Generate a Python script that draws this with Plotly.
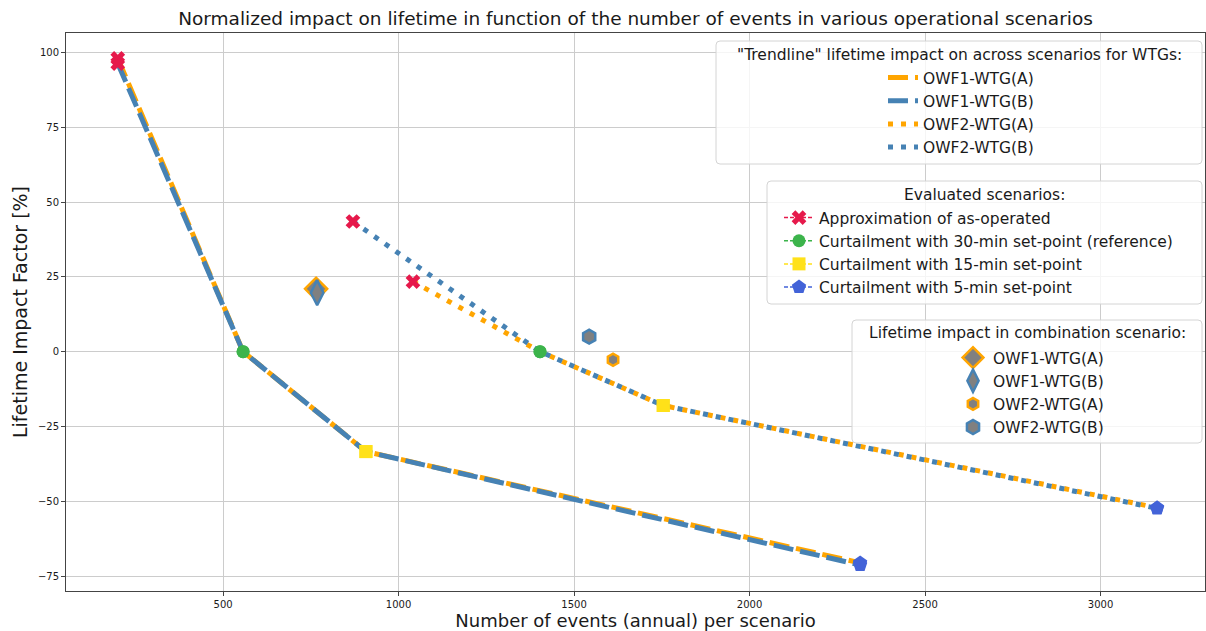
import plotly.graph_objects as go

# ---- data -------------------------------------------------------------
# Scenario order along each trendline:
# as-operated, 30-min set-point, 15-min set-point, 5-min set-point
owf1_a_x = [200, 557, 907, 2315]
owf1_a_y = [98.0, 0.0, -33.4, -70.6]
owf1_b_x = [200, 557, 907, 2315]
owf1_b_y = [96.3, 0.0, -33.4, -71.3]
owf2_a_x = [1041, 1403, 1754, 3161]
owf2_a_y = [23.4, 0.0, -18.0, -52.2]
owf2_b_x = [870, 1403, 1754, 3161]
owf2_b_y = [43.5, 0.0, -18.0, -52.4]

wtg_names = ["OWF1-WTG(A)", "OWF1-WTG(B)", "OWF2-WTG(A)", "OWF2-WTG(B)"]
scenario_names = [
    "Approximation of as-operated",
    "Curtailment with 30-min set-point (reference)",
    "Curtailment with 15-min set-point",
    "Curtailment with 5-min set-point",
]

# combination scenario results, one per WTG
combo_x = [765, 768, 1611, 1543]
combo_y = [21.0, 19.7, -2.7, 5.0]

x_ticks = [500, 1000, 1500, 2000, 2500, 3000]
y_ticks = [-75, -50, -25, 0, 25, 50, 75, 100]

# ---- styling ----------------------------------------------------------
W, H = 1206, 631
ML, MR, MT, MB = 66, 1, 33, 40
PW, PH = W - ML - MR, H - MT - MB
FONT = "DejaVu Sans"
TXT = "#1a1a1a"

ORANGE = "#FFA500"
STEEL = "#4682B4"
scen_colors = ["#e6194B", "#3cb44b", "#ffe119", "#4363d8"]
scen_symbols = ["x", "circle", "square", "pentagon"]
scen_sizes = [13, 13, 13, 15]


def px2x(px):
    return (px - ML) / PW


def px2y(py):
    return (H - MB - py) / PH


fig = go.Figure()

# trendlines across scenarios
trend = [
    (owf1_a_x, owf1_a_y, ORANGE, "20px,7px"),
    (owf1_b_x, owf1_b_y, STEEL, "20px,7px"),
    (owf2_a_x, owf2_a_y, ORANGE, "5px,8px"),
    (owf2_b_x, owf2_b_y, STEEL, "5px,8px"),
]
for (xs, ys, col, dash), name in zip(trend, wtg_names):
    fig.add_trace(go.Scatter(
        x=xs, y=ys, mode="lines", name=name, legend="legend",
        line=dict(color=col, width=5, dash=dash),
    ))

# evaluated scenario markers (gaps keep the points unconnected)
all_x = [owf1_a_x, owf1_b_x, owf2_a_x, owf2_b_x]
all_y = [owf1_a_y, owf1_b_y, owf2_a_y, owf2_b_y]
for i, name in enumerate(scenario_names):
    sx, sy = [], []
    for xs, ys in zip(all_x, all_y):
        sx += [xs[i], None]
        sy += [ys[i], None]
    fig.add_trace(go.Scatter(
        x=sx, y=sy, mode="lines+markers", name=name, legend="legend2",
        connectgaps=False,
        line=dict(color=scen_colors[i], width=1.5, dash="4px,2px"),
        marker=dict(symbol=scen_symbols[i], size=scen_sizes[i],
                    color=scen_colors[i], line=dict(width=0)),
    ))

# combination scenario
combo_symbols = ["diamond", "diamond-tall", "hexagon", "hexagon"]
combo_edges = [ORANGE, STEEL, ORANGE, STEEL]
combo_sizes = [17, 18, 12, 14]
for i, name in enumerate(wtg_names):
    fig.add_trace(go.Scatter(
        x=[combo_x[i]], y=[combo_y[i]], mode="markers", name=name,
        legend="legend3",
        marker=dict(symbol=combo_symbols[i], size=combo_sizes[i],
                    color="#808080",
                    line=dict(color=combo_edges[i], width=2.5)),
    ))

# ---- legend boxes and titles -----------------------------------------
def rounded_box(x0, y0, x1, y1, r=4):
    rx, ry = r / PW, r / PH
    X0, X1 = px2x(x0), px2x(x1)
    Y0, Y1 = px2y(y1), px2y(y0)  # bottom, top
    return (f"M{X0+rx},{Y0} L{X1-rx},{Y0} Q{X1},{Y0} {X1},{Y0+ry} "
            f"L{X1},{Y1-ry} Q{X1},{Y1} {X1-rx},{Y1} L{X0+rx},{Y1} "
            f"Q{X0},{Y1} {X0},{Y1-ry} L{X0},{Y0+ry} Q{X0},{Y0} {X0+rx},{Y0} Z")


boxes = [(716, 41, 1202, 164), (767, 181, 1202, 304), (852, 320, 1202, 443)]
titles = [
    ('"Trendline" lifetime impact on across scenarios for WTGs:', 959, 55),
    ("Evaluated scenarios:", 984.5, 195),
    ("Lifetime impact in combination scenario:", 1027, 333),
]
shapes = [
    dict(type="path", xref="paper", yref="paper", path=rounded_box(*b),
         fillcolor="rgba(255,255,255,0.8)", line=dict(color="#d4d4d4", width=1),
         layer="above")
    for b in boxes
]
annotations = [
    dict(text=t, x=px2x(cx), y=px2y(cy), xref="paper", yref="paper",
         xanchor="center", yanchor="middle", showarrow=False,
         font=dict(family=FONT, size=15.5, color=TXT))
    for t, cx, cy in titles
]

leg_common = dict(bgcolor="rgba(0,0,0,0)", borderwidth=0,
                  font=dict(family=FONT, size=15.5, color=TXT),
                  xanchor="left", yanchor="top", tracegroupgap=0)

fig.update_layout(
    width=W, height=H,
    margin=dict(l=ML, r=MR, t=MT, b=MB, autoexpand=False),
    paper_bgcolor="white", plot_bgcolor="white",
    font=dict(family=FONT, color=TXT),
    title=dict(
        text="Normalized impact on lifetime in function of the number of events in various operational scenarios",
        x=0.5, xref="paper", xanchor="center",
        y=1 - 19 / H, yanchor="middle",
        font=dict(family=FONT, size=18.5, color=TXT)),
    xaxis=dict(
        range=[52.5, 3297.5], tickvals=x_ticks, showgrid=True,
        gridcolor="#cccccc", gridwidth=1, zeroline=False,
        showline=True, linecolor="#444444", linewidth=1, mirror=True,
        ticks="outside", ticklen=4, tickcolor="#444444",
        tickfont=dict(family=FONT, size=10, color=TXT),
        title=dict(text="Number of events (annual) per scenario",
                   font=dict(family=FONT, size=18, color=TXT), standoff=8),
        automargin=False),
    yaxis=dict(
        range=[-80, 106.5], tickvals=y_ticks, showgrid=True,
        gridcolor="#cccccc", gridwidth=1, zeroline=False,
        showline=True, linecolor="#444444", linewidth=1, mirror=True,
        ticks="outside", ticklen=4, tickcolor="#444444",
        tickfont=dict(family=FONT, size=10, color=TXT),
        title=dict(text="Lifetime Impact Factor [%]",
                   font=dict(family=FONT, size=19, color=TXT), standoff=5),
        automargin=False),
    legend=dict(x=px2x(883), y=px2y(61), **leg_common),
    legend2=dict(x=px2x(779), y=px2y(201), **leg_common),
    legend3=dict(x=px2x(953), y=px2y(341), **leg_common),
    shapes=shapes,
    annotations=annotations,
    showlegend=True,
)

fig.write_html("out.html")
